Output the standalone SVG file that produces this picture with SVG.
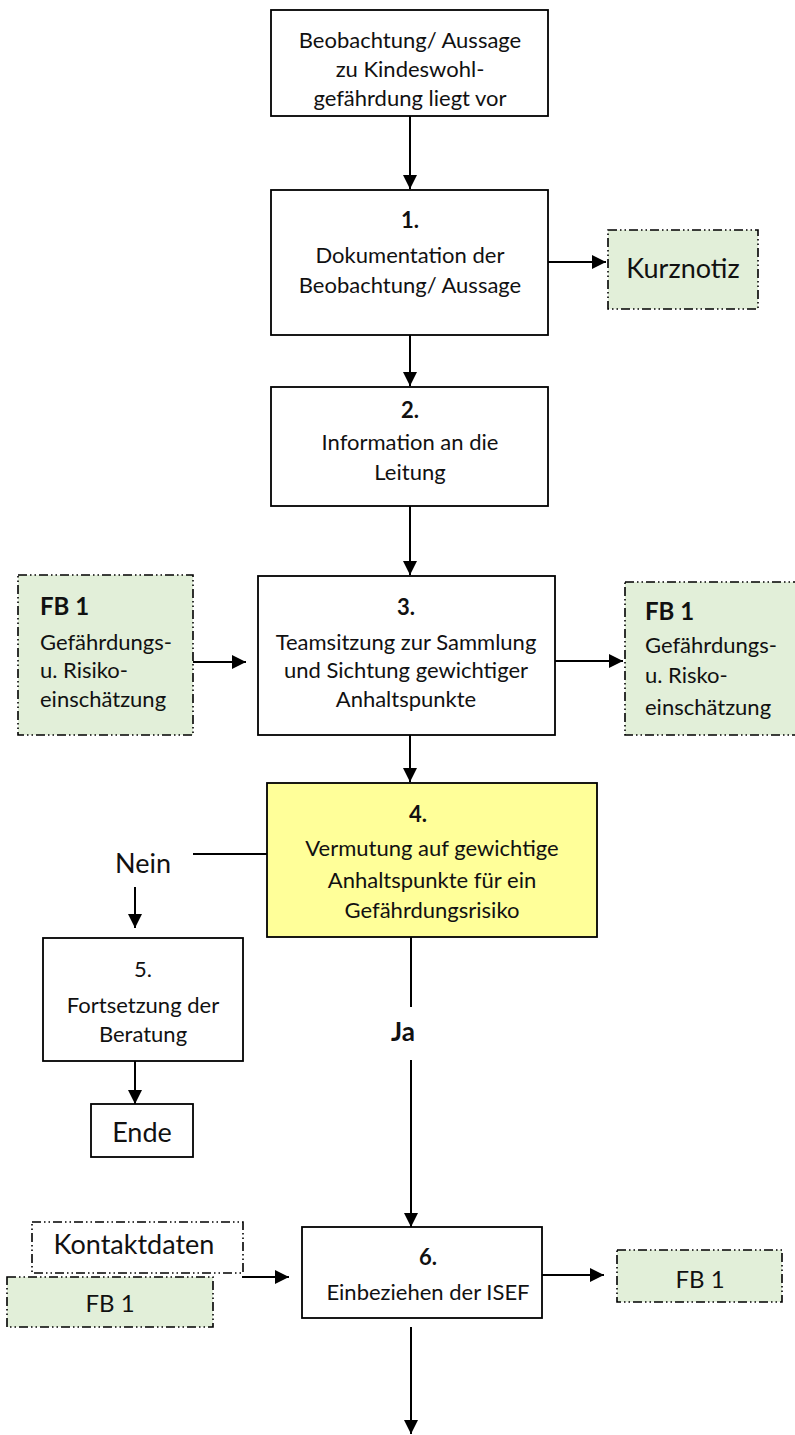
<svg xmlns="http://www.w3.org/2000/svg" width="795" height="1435" viewBox="0 0 795 1435">
<defs>
<style>
.box{fill:#fff;stroke:#000;stroke-width:1.8}
.yel{fill:#FFFF99;stroke:#000;stroke-width:1.8}
.doc{fill:#E2EFD9;stroke:#000;stroke-width:1.6;stroke-dasharray:9 3 1.5 3 1.5 3}
.docw{fill:#fff;stroke:#000;stroke-width:1.6;stroke-dasharray:9 3 1.5 3 1.5 3}
.ln{fill:none;stroke:#000;stroke-width:2}
text{font-family:Lato,"Liberation Sans",sans-serif;font-size:22px;fill:#111}
.c{text-anchor:middle}
.b{font-weight:bold}
.big{font-size:27px}
</style>
<marker id="ah" markerUnits="userSpaceOnUse" markerWidth="14" markerHeight="14" viewBox="0 0 14 14" refX="14" refY="7" orient="auto">
<path d="M0,0 L14,7 L0,14 Z" fill="#000"/>
</marker>
</defs>

<g id="connectors">
<line class="ln" x1="410" y1="116" x2="410" y2="189" marker-end="url(#ah)"/>
<line class="ln" x1="548" y1="262" x2="606" y2="262" marker-end="url(#ah)"/>
<line class="ln" x1="410" y1="335" x2="410" y2="386" marker-end="url(#ah)"/>
<line class="ln" x1="410" y1="506" x2="410" y2="575" marker-end="url(#ah)"/>
<line class="ln" x1="193" y1="662" x2="246" y2="662" marker-end="url(#ah)"/>
<line class="ln" x1="555" y1="661" x2="623" y2="661" marker-end="url(#ah)"/>
<line class="ln" x1="410" y1="735" x2="410" y2="782" marker-end="url(#ah)"/>
<line class="ln" x1="267" y1="854" x2="193" y2="854"/>
<line class="ln" x1="135" y1="887" x2="135" y2="928" marker-end="url(#ah)"/>
<line class="ln" x1="135" y1="1061" x2="135" y2="1104" marker-end="url(#ah)"/>
<line class="ln" x1="411" y1="937" x2="411" y2="1007"/>
<line class="ln" x1="411" y1="1060" x2="411" y2="1227" marker-end="url(#ah)"/>
<line class="ln" x1="242" y1="1277" x2="289" y2="1277" marker-end="url(#ah)"/>
<line class="ln" x1="542" y1="1275" x2="604" y2="1275" marker-end="url(#ah)"/>
<line class="ln" x1="411" y1="1327" x2="411" y2="1434" marker-end="url(#ah)"/>
</g>

<g id="n0">
<rect class="box" x="271" y="10" width="277" height="106"/>
<text class="c" x="410" y="48">Beobachtung/ Aussage</text>
<text class="c" x="410" y="77">zu Kindeswohl-</text>
<text class="c" x="410" y="106">gefährdung liegt vor</text>
</g>

<g id="n1">
<rect class="box" x="271" y="190" width="277" height="145"/>
<text class="c b" x="410" y="228">1.</text>
<text class="c" x="410" y="263">Dokumentation der</text>
<text class="c" x="410" y="293">Beobachtung/ Aussage</text>
</g>

<g id="kurznotiz">
<rect class="doc" x="608" y="230" width="150" height="79"/>
<text class="c big" x="683" y="278">Kurznotiz</text>
</g>

<g id="n2">
<rect class="box" x="271" y="387" width="277" height="119"/>
<text class="c b" x="410" y="418">2.</text>
<text class="c" x="410" y="450">Information an die</text>
<text class="c" x="410" y="480">Leitung</text>
</g>

<g id="n3">
<rect class="box" x="258" y="576" width="297" height="159"/>
<text class="c b" x="406" y="615">3.</text>
<text class="c" x="406" y="650">Teamsitzung zur Sammlung</text>
<text class="c" x="406" y="678">und Sichtung gewichtiger</text>
<text class="c" x="406" y="707">Anhaltspunkte</text>
</g>

<g id="fb1-left">
<rect class="doc" x="18" y="575" width="175" height="160"/>
<text class="b" x="40" y="615" style="font-size:24px">FB 1</text>
<text x="40" y="650">Gefährdungs-</text>
<text x="40" y="678">u. Risiko-</text>
<text x="40" y="707">einschätzung</text>
</g>

<g id="fb1-right">
<rect class="doc" x="625" y="582" width="190" height="153"/>
<text class="b" x="645" y="620" style="font-size:24px">FB 1</text>
<text x="645" y="653">Gefährdungs-</text>
<text x="645" y="683">u. Risko-</text>
<text x="645" y="715">einschätzung</text>
</g>

<g id="n4">
<rect class="yel" x="267" y="783" width="330" height="154"/>
<text class="c b" x="418" y="822">4.</text>
<text class="c" x="432" y="856">Vermutung auf gewichtige</text>
<text class="c" x="432" y="888">Anhaltspunkte für ein</text>
<text class="c" x="432" y="918">Gefährdungsrisiko</text>
</g>

<g id="label-nein">
<text class="c big" x="143" y="873">Nein</text>
</g>

<g id="n5">
<rect class="box" x="43" y="938" width="200" height="123"/>
<text class="c" x="143" y="977">5.</text>
<text class="c" x="143" y="1013">Fortsetzung der</text>
<text class="c" x="143" y="1042">Beratung</text>
</g>

<g id="ende">
<rect class="box" x="91" y="1104" width="102" height="53"/>
<text class="c big" x="142" y="1142">Ende</text>
</g>

<g id="label-ja">
<text class="c b" x="403" y="1041" style="font-size:26px">Ja</text>
</g>

<g id="kontaktdaten">
<rect class="docw" x="32" y="1222" width="211" height="51"/>
<text class="c big" x="134" y="1254">Kontaktdaten</text>
</g>

<g id="fb1-bl">
<rect class="doc" x="7" y="1277" width="206" height="50"/>
<text class="c" x="110" y="1312" style="font-size:24px">FB 1</text>
</g>

<g id="n6">
<rect class="box" x="302" y="1227" width="240" height="91"/>
<text class="c b" x="428" y="1265">6.</text>
<text class="c" x="428" y="1300">Einbeziehen der ISEF</text>
</g>

<g id="fb1-br">
<rect class="doc" x="617" y="1250" width="165" height="52"/>
<text class="c" x="700" y="1288" style="font-size:24px">FB 1</text>
</g>
</svg>
